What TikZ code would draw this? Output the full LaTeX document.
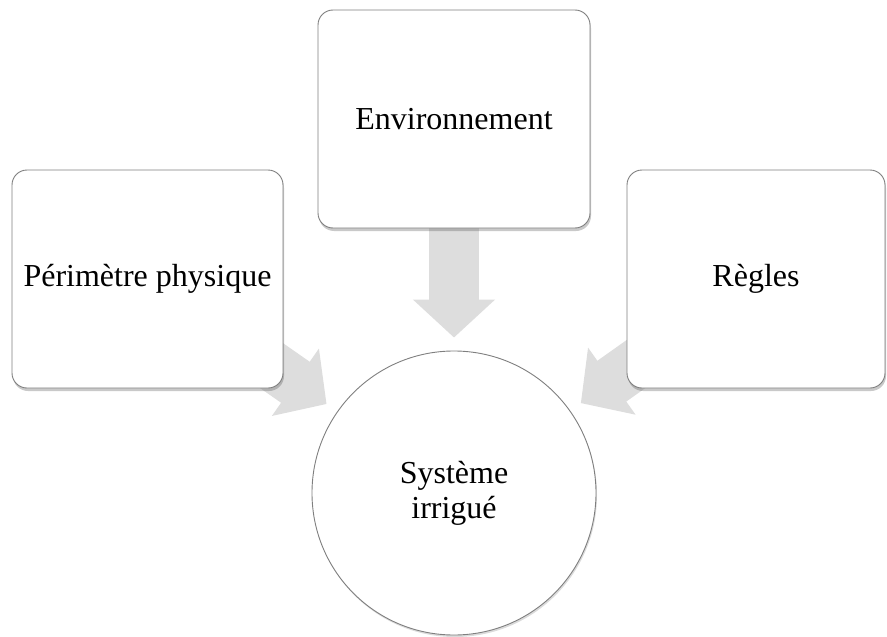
\documentclass[tikz,border=0pt]{standalone}
\usepackage{fontspec}
\setmainfont{Liberation Serif}
\usepackage{tikz}
\usepackage{xcolor}
\usetikzlibrary{arrows.meta,positioning,shadows,backgrounds}
\definecolor{sgline}{HTML}{7F7F7F}
\definecolor{sgarrow}{HTML}{DDDDDD}
\tikzset{
  sbox/.style   = {rectangle, draw=sgline, fill=white, rounded corners=15pt,
                   line width=0.9pt, minimum width=272pt, minimum height=218pt,
                   align=center, font=\fontsize{32}{35}\selectfont,
                   drop shadow={shadow xshift=1pt, shadow yshift=-3pt, opacity=0.3, fill=black!70}},
  scirc/.style  = {circle, draw=sgline, fill=white, line width=0.9pt,
                   minimum size=284pt, inner sep=0pt, align=center,
                   font=\fontsize{32}{35}\selectfont,
                   drop shadow={shadow xshift=1pt, shadow yshift=-2pt, opacity=0.2, fill=black!70}},
  sarrow/.style = {-{Triangle[length=38pt, width=80pt]}, line width=50pt, sgarrow,
                   shorten >=13pt},
}
\begin{document}
\begin{tikzpicture}[x=1pt, y=-1pt]
\useasboundingbox (0,0) rectangle (887,637);
\node[sbox, minimum width=271pt] (peri) at (147.5,279) {Périmètre physique};
\node[sbox] (env) at (454,119) {Environnement};
\node[sbox, minimum width=258pt] (regles) at (756,279) {Règles};
\node[scirc] (sys) at (454,493) {Système\\irrigué};

\begin{scope}[on background layer]
\draw[sarrow] (env.center)    -- (sys);
\draw[sarrow] (peri.center)   -- (sys);
\draw[sarrow] (regles.center) -- (sys);
\end{scope}
\end{tikzpicture}
\end{document}
